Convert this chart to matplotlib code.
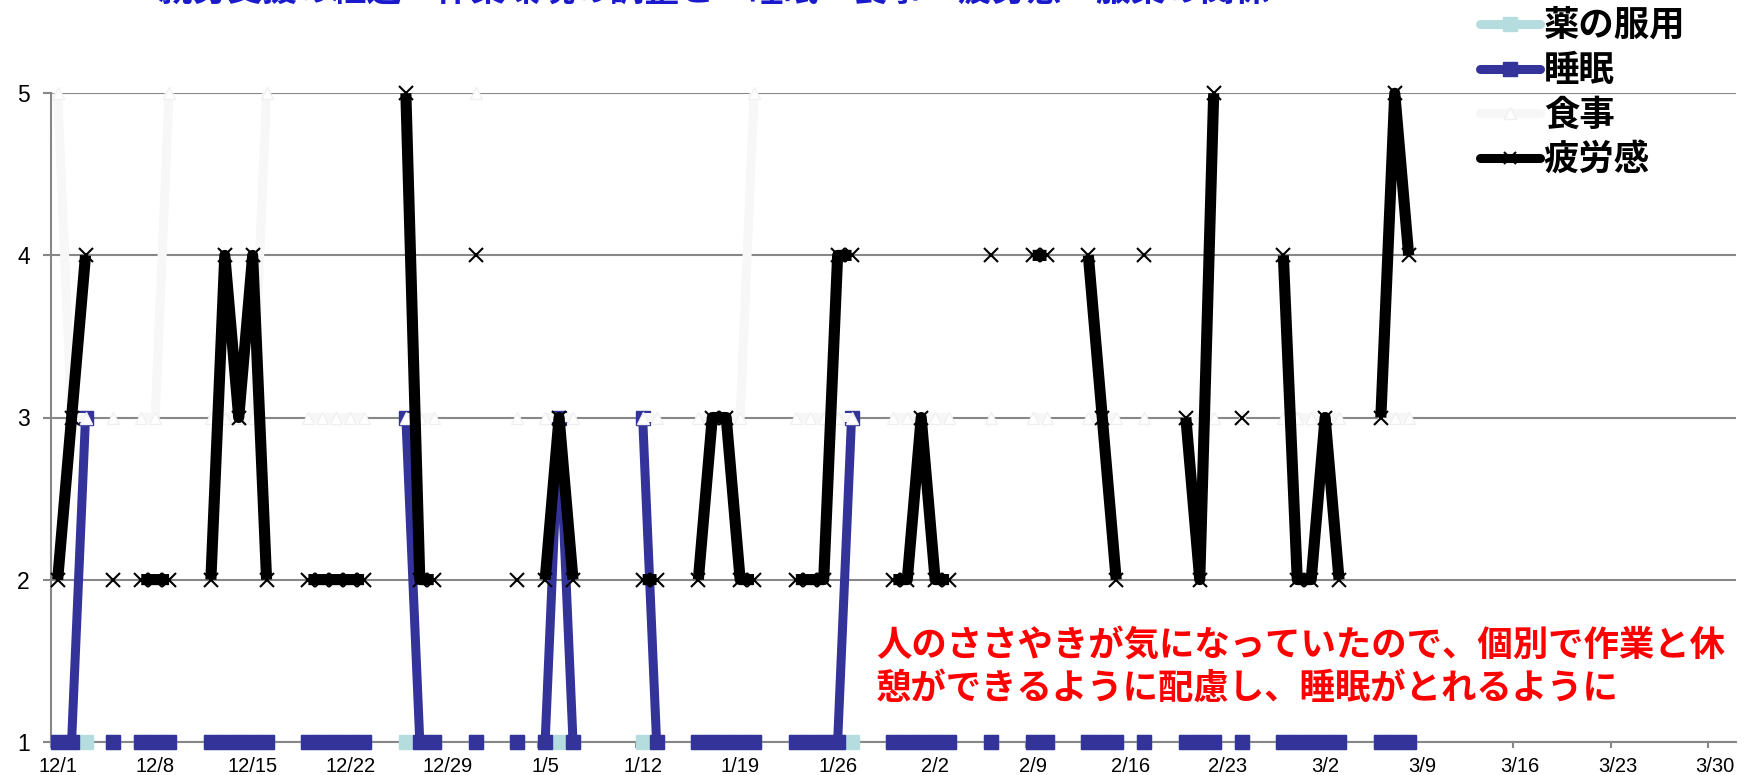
import numpy as np
import matplotlib
matplotlib.use("Agg")
import matplotlib.pyplot as plt
from matplotlib.lines import Line2D

plt.rcParams["font.family"] = ["Liberation Sans", "Noto Sans CJK JP", "DejaVu Sans"]

# ---- daily records (days without a record are simply absent) ----
record_dates = [
    "12/1", "12/2", "12/3", "12/5", "12/7", "12/8", "12/9",
    "12/12", "12/13", "12/14", "12/15", "12/16",
    "12/19", "12/20", "12/21", "12/22", "12/23",
    "12/26", "12/27", "12/28", "12/31",
    "1/3", "1/5", "1/6", "1/7",
    "1/12", "1/13", "1/16", "1/17", "1/18", "1/19", "1/20",
    "1/23", "1/24", "1/25", "1/26", "1/27",
    "1/30", "1/31", "2/1", "2/2", "2/3",
    "2/6", "2/9", "2/10", "2/13", "2/14", "2/15", "2/17",
    "2/20", "2/21", "2/22", "2/24",
    "2/27", "2/28", "3/1", "3/2", "3/3",
    "3/6", "3/7", "3/8",
]

medication = [
    1, 1, 1, 1, 1, 1, 1,
    1, 1, 1, 1, 1,
    1, 1, 1, 1, 1,
    1, 1, 1, 1,
    1, 1, 1, 1,
    1, 1, 1, 1, 1, 1, 1,
    1, 1, 1, 1, 1,
    1, 1, 1, 1, 1,
    1, 1, 1, 1, 1, 1, 1,
    1, 1, 1, 1,
    1, 1, 1, 1, 1,
    1, 1, 1,
]

sleep = [
    1, 1, 3, 1, 1, 1, 1,
    1, 1, 1, 1, 1,
    1, 1, 1, 1, 1,
    3, 1, 1, 1,
    1, 1, 3, 1,
    3, 1, 1, 1, 1, 1, 1,
    1, 1, 1, 1, 3,
    1, 1, 1, 1, 1,
    1, 1, 1, 1, 1, 1, 1,
    1, 1, 1, 1,
    1, 1, 1, 1, 1,
    1, 1, 1,
]

meal = [
    5, 3, 3, 3, 3, 3, 5,
    3, 3, 3, 3, 5,
    3, 3, 3, 3, 3,
    3, 3, 3, 5,
    3, 3, 3, 3,
    3, 3, 3, 3, 3, 3, 5,
    3, 3, 3, 3, 3,
    3, 3, 3, 3, 3,
    3, 3, 3, 3, 3, 3, 3,
    3, 3, 3, 3,
    3, 3, 3, 3, 3,
    3, 3, 3,
]

fatigue = [
    2, 3, 4, 2, 2, 2, 2,
    2, 4, 3, 4, 2,
    2, 2, 2, 2, 2,
    5, 2, 2, 4,
    2, 2, 3, 2,
    2, 2, 2, 3, 3, 2, 2,
    2, 2, 2, 4, 4,
    2, 2, 3, 2, 2,
    4, 4, 4, 4, 3, 2, 4,
    3, 2, 5, 3,
    4, 2, 2, 3, 2,
    3, 5, 4,
]

tick_labels = ["12/1", "12/8", "12/15", "12/22", "12/29", "1/5", "1/12",
               "1/19", "1/26", "2/2", "2/9", "2/16", "2/23", "3/2",
               "3/9", "3/16", "3/23", "3/30"]

series_names = ["薬の服用", "睡眠", "食事", "疲労感"]
title_text = "就労支援の経過　作業環境の調整と　睡眠・食事・疲労感・服薬の関係"
note_text = "人のささやきが気になっていたので、個別で作業と休\n憩ができるように配慮し、睡眠がとれるように"

MONTH_START = {12: 0, 1: 31, 2: 62, 3: 90, 4: 121}


def day_offset(label):
    m, d = (int(v) for v in label.split("/"))
    return MONTH_START[m] + d - 1


offsets = np.array([day_offset(s) for s in record_dates])
n_days = offsets.max() + 1
x_days = np.arange(n_days) + 0.5  # each record sits in the middle of its day


def daily(values):
    out = np.full(n_days, np.nan)
    out[offsets] = values
    return out


fig = plt.figure(figsize=(17.5, 7.75), dpi=100)
W, H = 1750, 775
ax_left, ax_right, ax_bottom, ax_top = 50.7, 1736, 741.7, 93.3
ax = fig.add_axes([ax_left / W, 1 - ax_bottom / H,
                   (ax_right - ax_left) / W, (ax_bottom - ax_top) / H])

grid_col = "#878787"
c_med = "#b5dde0"
c_sleep = "#333399"
c_meal = "#f7f7f7"
c_fat = "#000000"

common = dict(clip_on=False, solid_joinstyle="round", solid_capstyle="butt")
ax.plot(x_days, daily(medication), color=c_med, lw=6.5, marker="s", ms=10,
        mfc=c_med, mec=c_med, zorder=3, **common)
ax.plot(x_days, daily(sleep), color=c_sleep, lw=6.5, marker="s", ms=10,
        mfc=c_sleep, mec=c_sleep, zorder=4, **common)
ax.plot(x_days, daily(meal), color=c_meal, lw=6.5, marker="^", ms=8,
        mfc="white", mec="#f0f0f0", zorder=5, **common)
ax.plot(x_days, daily(fatigue), color=c_fat, lw=8, marker="x", ms=10,
        mew=1.5, mec=c_fat, zorder=6, **common)

# axes and grid
ax.set_xlim(0, 121)
ax.set_ylim(1, 5)
ax.set_yticks([1, 2, 3, 4, 5])
ax.grid(axis="y", color=grid_col, lw=1.5, zorder=0)
ax.set_axisbelow(True)
for side in ("top", "right"):
    ax.spines[side].set_visible(False)
for side in ("left", "bottom"):
    ax.spines[side].set_color(grid_col)
    ax.spines[side].set_linewidth(1.5)
    ax.spines[side].set_zorder(1)

tick_pos = np.array([day_offset(s) for s in tick_labels])
ax.set_xticks(tick_pos)
ax.set_xticklabels([])
ax.set_xticks(tick_pos + 0.5, minor=True)
ax.set_xticklabels(tick_labels, minor=True)
ax.tick_params(axis="x", which="major", length=4, width=1.5, color=grid_col)
ax.tick_params(axis="x", which="minor", length=0, pad=11, labelsize=14.5)
ax.tick_params(axis="y", length=6, width=1.5, color=grid_col, pad=9,
               labelsize=16.5)

# legend
handles = [
    Line2D([], [], color=c_med, lw=6.5, marker="s", ms=10, mfc=c_med,
           mec=c_med, solid_capstyle="round"),
    Line2D([], [], color=c_sleep, lw=6.5, marker="s", ms=10, mfc=c_sleep,
           mec=c_sleep, solid_capstyle="round"),
    Line2D([], [], color=c_meal, lw=6.5, marker="^", ms=8, mfc="white",
           mec="#f0f0f0", solid_capstyle="round"),
    Line2D([], [], color=c_fat, lw=6.5, marker="x", ms=8, mew=1.5,
           mec=c_fat, solid_capstyle="round"),
]
fig.legend(handles, series_names, loc="upper left",
           bbox_to_anchor=(1480 / W, 1 - 8 / H), frameon=False,
           borderpad=0, borderaxespad=0, handlelength=1.7,
           handletextpad=0.1, labelspacing=0.28, numpoints=1,
           prop=dict(family="Noto Sans CJK JP", weight="bold", size=25.5))

# title (runs off the top edge of the canvas)
fig.text(158 / W, 1 - 2 / H, title_text, ha="left", va="baseline",
         color="#1a1acc", fontsize=25, fontweight="bold",
         family="Noto Sans CJK JP")

# annotation
fig.text(876 / W, 1 - 629 / H, note_text, ha="left", va="top",
         color="#ff0000", fontsize=25.5, fontweight="bold",
         family="Noto Sans CJK JP", linespacing=1.22)

fig.savefig("out.png", dpi=100)
